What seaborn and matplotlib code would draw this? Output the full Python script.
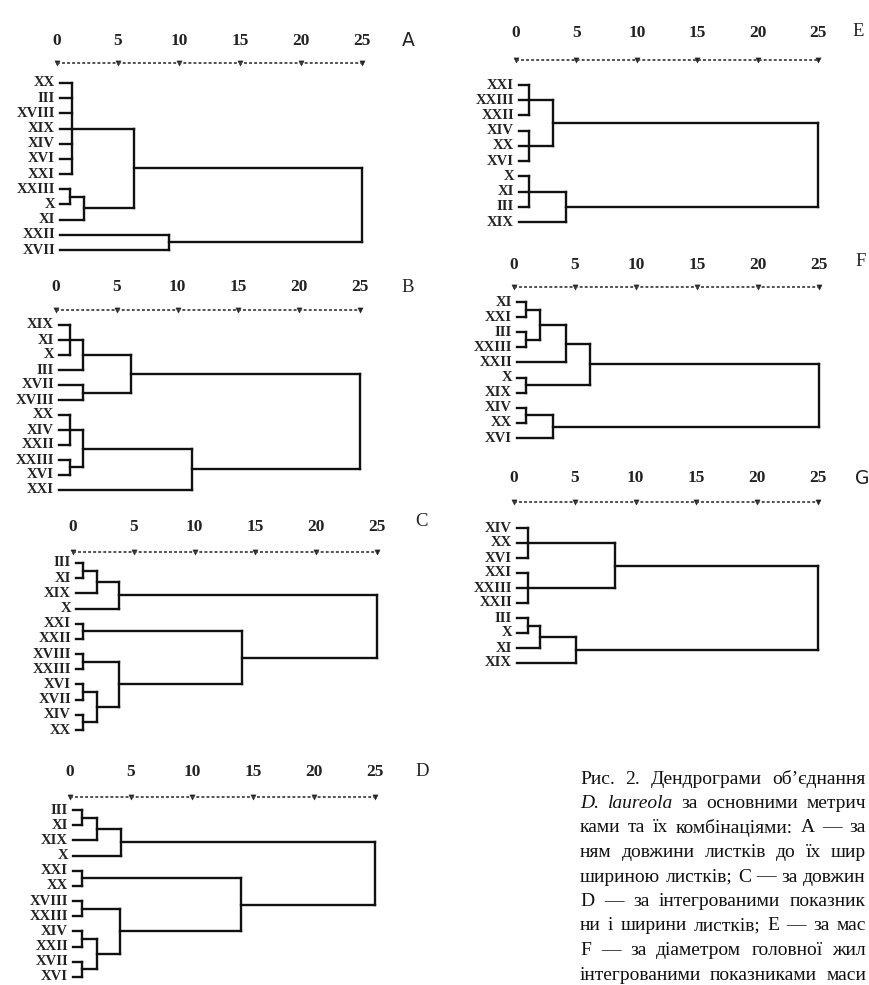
import matplotlib
matplotlib.use("Agg")
import matplotlib.pyplot as plt
import matplotlib.transforms as mtransforms
import seaborn as sns
import numpy as np
import pandas as pd

sns.set_theme(style="white")
plt.rcParams['font.family'] = ['Liberation Serif', 'DejaVu Serif']

# ---------------- data ----------------
scale_ticks = [0, 5, 10, 15, 20, 25]
panel_letters = ["A", "B", "C", "D", "E", "F", "G"]

# tree nodes: (merge distance, [children]); leaves are population labels
tree_A = (25.0, [
    (6.3, [(1.2, ["XX", "III", "XVIII", "XIX", "XIV", "XVI", "XXI"]),
           (2.2, [(1.1, ["XXIII", "X"]), "XI"])]),
    (9.15, ["XXII", "XVII"])])

tree_B = (25.0, [
    (6.2, [(2.25, [(1.15, ["XIX", "XI", "X"]), "III"]),
           (2.25, ["XVII", "XVIII"])]),
    (11.2, [(2.25, [(1.15, ["XX", "XIV", "XXII"]), (1.15, ["XXIII", "XVI"])]),
            "XXI"])])

tree_C = (25.0, [
    (3.8, [(1.95, [(0.8, ["III", "XI"]), "XIX"]), "X"]),
    (13.9, [(0.8, ["XXI", "XXII"]),
            (3.75, [(0.8, ["XVIII", "XXIII"]),
                    (1.95, [(0.8, ["XVI", "XVII"]), (0.8, ["XIV", "XX"])])])])])

tree_D = (25.0, [
    (4.2, [(2.2, [(0.95, ["III", "XI"]), "XIX"]), "X"]),
    (14.0, [(0.95, ["XXI", "XX"]),
            (4.1, [(0.95, ["XVIII", "XXIII"]),
                   (2.2, [(0.95, ["XIV", "XXII"]), (0.95, ["XVII", "XVI"])])])])])

tree_E = (25.0, [
    (3.1, [(1.1, ["XXI", "XXIII", "XXII"]), (1.1, ["XIV", "XX", "XVI"])]),
    (4.1, [(1.1, ["X", "XI", "III"]), "XIX"])])

tree_F = (25.0, [
    (6.2, [(4.25, [(2.1, [(0.95, ["XI", "XXI"]), (0.95, ["III", "XXIII"])]), "XXII"]),
           (0.95, ["X", "XIX"])]),
    (3.2, [(0.95, ["XIV", "XX"]), "XVI"])])

tree_G = (25.0, [
    (8.3, [(1.15, ["XIV", "XX", "XVI"]), (1.15, ["XXI", "XXIII", "XXII"])]),
    (5.1, [(2.1, [(1.15, ["III", "X"]), "XI"]), "XIX"])])

trees = [tree_A, tree_B, tree_C, tree_D, tree_E, tree_F, tree_G]

# visible part of the (cropped) caption
caption_lines = [
    "Рис. 2. Дендрограми об’єднання",
    "D. laureola за основними метрич",
    "ками та їх комбінаціями: А — за",
    "ням довжини листків до їх шир",
    "шириною листків; С — за довжин",
    "D — за інтегрованими показник",
    "ни і ширини листків; Е — за мас",
    "F — за діаметром головної жил",
    "інтегрованими показниками маси",
]
italic_words = {1: ["D.", "laureola"]}

# ---------------- layout (pixels) ----------------
W, H = 869, 985
# x0, x25, y_tick, y_axis, y_first_leaf, y_last_leaf, x_letter, y_letter, letter_family
geom = [
    (57, 362, 41, 63, 83, 250, 408, 40, 'DejaVu Sans'),
    (56, 360, 287, 310, 325, 490, 408, 287, 'Liberation Serif'),
    (73, 377, 527, 552, 563, 730, 422, 521, 'Liberation Serif'),
    (70, 375, 772, 797, 810, 977, 422, 772, 'Liberation Serif'),
    (516, 818, 33, 60, 85, 222, 858, 31, 'Liberation Serif'),
    (514, 819, 265, 287, 302, 438, 861, 262, 'Liberation Serif'),
    (514, 818, 478, 502, 528, 663, 862, 478, 'DejaVu Sans'),
]

LEAF_X = 0.25


def layout(tree):
    leaves, segs = [], []

    def walk(node):
        if isinstance(node, str):
            r = len(leaves)
            leaves.append(node)
            return LEAF_X, float(r)
        h, kids = node
        pts = [walk(k) for k in kids]
        ys = [p[1] for p in pts]
        for cx, cy in pts:
            segs.append(((cx, cy), (h, cy)))
        segs.append(((h, min(ys)), (h, max(ys))))
        return h, float(np.mean(ys))

    walk(tree)
    return leaves, segs


fig = plt.figure(figsize=(W / 100, H / 100), dpi=100)
fig.patch.set_facecolor('white')

for tree, letter, g in zip(trees, panel_letters, geom):
    x0, x25, y_tick, y_axis, y_first, y_last, x_let, y_let, let_fam = g
    leaves, segs = layout(tree)
    n = len(leaves)
    s = (y_last - y_first) / (n - 1)
    axis_row = -(y_first - y_axis) / s
    ax = fig.add_axes([x0 / W, 1 - y_last / H, (x25 - x0) / W, (y_last - y_axis) / H])
    ax.set_xlim(0, 25)
    ax.set_ylim(n - 1, axis_row)
    ax.set_axis_off()

    rows = []
    for i, ((xa, ya), (xb, yb)) in enumerate(segs):
        rows.append({"seg": i, "x": xa, "y": ya})
        rows.append({"seg": i, "x": xb, "y": yb})
    df = pd.DataFrame(rows)
    sns.lineplot(data=df, x="x", y="y", units="seg", estimator=None, sort=False,
                 color="#111111", lw=1.7, solid_capstyle="projecting", ax=ax,
                 clip_on=False)

    # dotted distance scale
    ax.plot([0, 25], [axis_row, axis_row], ls=(0, (1.6, 1.2)), color="#444444",
            lw=1.3, clip_on=False)
    sns.scatterplot(x=scale_ticks, y=[axis_row] * len(scale_ticks), marker="v",
                    s=14, color="#222222", edgecolor="#222222", ax=ax, clip_on=False)
    tick_row = axis_row - (y_axis - y_tick) / s
    for t in scale_ticks:
        ax.text(t, tick_row, str(t), ha="center", va="center", fontsize=12.5,
                fontweight="bold", color="#222222", clip_on=False)
    ax.text((x_let - x0) / (x25 - x0) * 25, axis_row - (y_axis - y_let) / s, letter,
            ha="center", va="center", fontsize=13.5, family=let_fam, color="#222222",
            clip_on=False)

    lab_tr = mtransforms.offset_copy(ax.transData, fig=fig, x=-5, y=0, units="dots")
    for r, name in enumerate(leaves):
        ax.text(LEAF_X, r, name, transform=lab_tr, ha="right", va="center",
                fontsize=10.5, fontweight="bold", color="#222222", clip_on=False)
    ax.set_xlabel("")
    ax.set_ylabel("")

# caption, justified between x_left and x_right
renderer = fig.canvas.get_renderer()
x_left, x_right = 580, 866
cap_size = 14.0
for i, line in enumerate(caption_lines):
    y = 1 - (779 + 24.5 * i) / H
    words = line.split(" ")
    objs = []
    for w in words:
        style = "italic" if w in italic_words.get(i, []) else "normal"
        t = fig.text(0, y, w, ha="left", va="center", fontsize=cap_size,
                     fontstyle=style, color="#111111")
        objs.append(t)
    widths = [t.get_window_extent(renderer).width for t in objs]
    gap = (x_right - x_left - sum(widths)) / max(len(words) - 1, 1)
    gap = max(gap, 3.5)
    x = x_left
    for t, wdt in zip(objs, widths):
        t.set_x(x / W)
        x += wdt + gap

fig.savefig("out.png", dpi=100, facecolor="white")
